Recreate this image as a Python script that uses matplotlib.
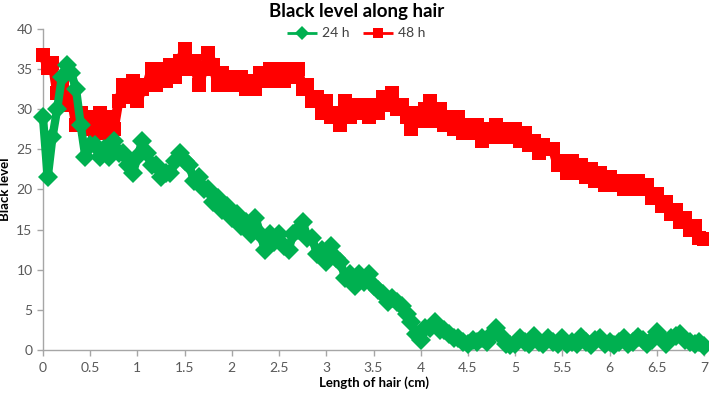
import numpy as np
import matplotlib
matplotlib.use("Agg")
import matplotlib.pyplot as plt

plt.rcParams['font.family'] = ['Lato', 'DejaVu Sans']

# sampling positions along hair (cm)
length_cm = np.round(np.arange(0, 7.0001, 0.05), 2)

black_48h = [
    36.8, 35.2, 35.8, 32.0, 33.5, 30.5, 31.5, 28.0, 29.5, 27.5,
    29.0, 27.0, 29.5, 27.0, 29.0, 27.5, 31.0, 33.0, 31.5, 33.5,
    31.0, 32.5, 33.0, 35.0, 33.0, 35.0, 33.5, 35.5, 34.0, 36.0,
    37.5, 35.0, 36.0, 33.0, 35.0, 37.0, 35.5, 33.0, 34.5, 33.0,
    34.0, 33.0, 34.0, 32.5, 33.5, 32.5, 34.5, 33.5, 35.0, 33.5,
    35.0, 33.5, 35.0, 34.0, 35.0, 32.5, 33.0, 31.0, 31.5, 29.5,
    31.0, 29.0, 29.5, 28.0, 31.0, 29.0, 30.5, 29.5, 30.5, 29.0,
    30.5, 29.5, 31.5, 30.5, 32.0, 30.0, 30.5, 29.0, 27.5, 29.5,
    28.5, 30.0, 31.0, 28.5, 30.0, 28.0, 29.0, 27.5, 29.0, 27.0,
    28.0, 27.0, 28.0, 26.0, 27.5, 26.5, 28.0, 26.5, 27.5, 26.5,
    27.5, 26.0, 27.0, 25.5, 26.0, 24.5, 25.5, 25.0, 25.0, 23.0,
    23.5, 22.0, 23.5, 22.0, 23.0, 21.5, 22.5, 21.0, 22.0, 20.5,
    21.5, 20.5, 21.0, 20.0, 21.0, 20.0, 21.0, 20.0, 20.5, 19.0,
    19.5, 18.0, 18.5, 17.0, 17.5, 16.0, 16.5, 15.0, 15.5, 14.0,
    13.8,
]

black_24h = [
    29.0, 21.5, 26.5, 30.0, 34.0, 35.5, 34.5, 32.5, 28.0, 24.0,
    25.5, 25.5, 24.0, 25.0, 24.0, 26.0, 24.5, 24.5, 23.0, 22.0,
    24.0, 26.0, 24.5, 23.0, 23.0, 21.5, 22.0, 22.0, 23.5, 24.5,
    23.5, 23.0, 21.0, 21.5, 20.0, 20.0, 18.5, 19.0, 17.5, 18.0,
    16.5, 17.0, 15.5, 16.0, 14.5, 16.5, 14.5, 12.5, 14.5, 13.5,
    14.5, 13.0, 12.5, 14.5, 15.0, 16.0, 14.0, 14.0, 12.0, 12.5,
    11.0, 13.0, 11.5, 11.0, 9.0, 9.5, 8.0, 9.5, 8.5, 9.5,
    8.0, 7.5, 7.0, 6.0, 6.5, 6.0, 5.5, 4.5, 3.5, 2.0,
    1.2, 2.8, 2.8, 3.5, 2.5, 2.5, 2.0, 1.5, 1.5, 1.0,
    0.8, 1.2, 1.0, 1.5, 1.0, 2.0, 2.8, 1.8, 0.8, 0.6,
    0.8, 1.5, 1.0, 0.8, 1.8, 1.0, 0.8, 1.5, 1.0, 0.8,
    1.5, 0.8, 1.0, 0.8, 1.6, 1.0, 0.6, 1.2, 1.5, 0.8,
    1.0, 0.6, 1.0, 1.5, 0.8, 1.0, 1.6, 1.2, 0.8, 1.2,
    2.2, 1.5, 0.8, 1.5, 1.8, 2.0, 1.2, 1.0, 0.8, 1.0,
    0.5,
]

x_ticks = [0, 0.5, 1, 1.5, 2, 2.5, 3, 3.5, 4, 4.5, 5, 5.5, 6, 6.5, 7]
x_tick_labels = ['0', '0.5', '1', '1.5', '2', '2.5', '3', '3.5', '4', '4.5',
                 '5', '5.5', '6', '6.5', '7']
y_ticks = [0, 5, 10, 15, 20, 25, 30, 35, 40]

green = '#00B050'
red = '#FF0000'
axis_gray = '#A6A6A6'
text_gray = '#595959'

fig = plt.figure(figsize=(7.09, 3.94), dpi=100)
ax = fig.add_axes([0.0606, 0.1117, 0.9324, 0.8147])

ax.plot(length_cm, black_24h, color=green, lw=6, marker='D', markersize=10,
        markeredgewidth=0, label='24 h', zorder=3, clip_on=False,
        solid_joinstyle='round', solid_capstyle='butt')
ax.plot(length_cm, black_48h, color=red, lw=7, marker='s', markersize=9.5,
        markeredgewidth=0, label='48 h', zorder=2, clip_on=False,
        solid_joinstyle='round', solid_capstyle='butt')

ax.set_xlim(0, 7)
ax.set_ylim(0, 40)
ax.set_xticks(x_ticks)
ax.set_xticklabels(x_tick_labels)
ax.set_yticks(y_ticks)

for s in ['top', 'right']:
    ax.spines[s].set_visible(False)
for s in ['left', 'bottom']:
    ax.spines[s].set_color(axis_gray)
    ax.spines[s].set_linewidth(1.0)
    ax.spines[s].set_zorder(1)
ax.tick_params(axis='both', direction='out', length=4, width=1.0,
               color=axis_gray, labelcolor=text_gray, labelsize=10)
ax.tick_params(axis='x', pad=5)

ax.set_xlabel('Length of hair (cm)', fontsize=9.5, fontweight='bold',
              color='black', labelpad=1)
ax.set_ylabel('Black level', fontsize=9.5, fontweight='bold', color='black',
              labelpad=4)

fig.text(0.5035, 0.972, 'Black level along hair', ha='center', va='center',
         fontsize=13.5, fontweight='bold', color='black')

leg = fig.legend(loc='center', bbox_to_anchor=(0.502, 0.915), ncol=2,
                 frameon=False, fontsize=10, handlelength=2.2,
                 columnspacing=1.0, handletextpad=0.3, borderaxespad=0)
for h in leg.legend_handles:
    h.set_linewidth(2)
    h.set_markersize(7)
for t in leg.get_texts():
    t.set_color('#404040')

fig.savefig('out.png', dpi=100)
